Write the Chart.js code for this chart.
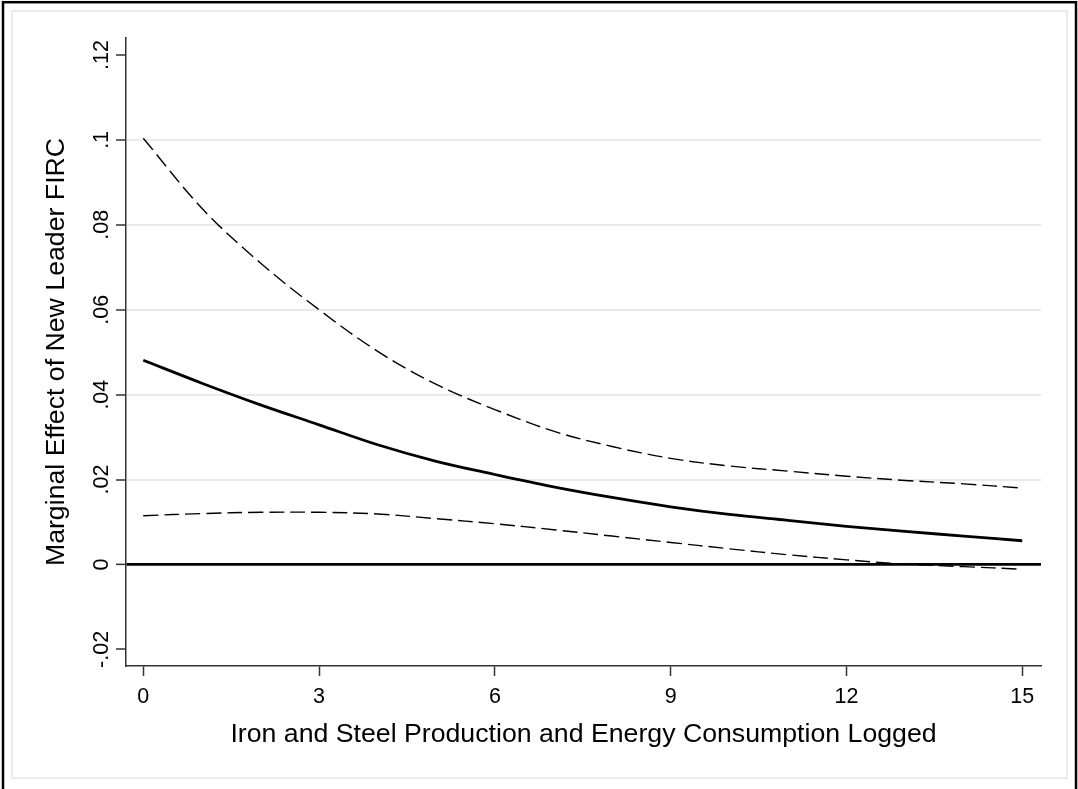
<!DOCTYPE html>
<html>
<head>
<meta charset="utf-8">
<script src="https://cdn.jsdelivr.net/npm/chart.js@4.4.1/dist/chart.umd.min.js"></script>
<style>
  html, body { margin: 0; padding: 0; background: #fff; overflow: hidden; }
  canvas { display: block; }
</style>
</head>
<body>
<canvas id="c" width="1078" height="789"></canvas>
<script>
// ---- data ----
const xVals = [0, 1, 2, 3, 4, 5, 6, 7, 8, 9, 10, 11, 12, 13, 14, 15];
const meanEffect = [0.0481, 0.0427, 0.0376, 0.0329, 0.0282, 0.0243, 0.0212, 0.0183, 0.0158, 0.0136, 0.0118, 0.0104, 0.0090, 0.0078, 0.0067, 0.0056];
const upperCI    = [0.1004, 0.0839, 0.0710, 0.0600, 0.0502, 0.0424, 0.0365, 0.0314, 0.0278, 0.0250, 0.0232, 0.0220, 0.0208, 0.0198, 0.0190, 0.0180];
const lowerCI    = [0.0115, 0.0120, 0.0123, 0.0123, 0.0119, 0.0108, 0.0096, 0.0082, 0.0067, 0.0052, 0.0037, 0.0023, 0.0011, 0.0001, -0.0005, -0.0011];

const xTickVals = [0, 3, 6, 9, 12, 15];
const yTickVals = [-0.02, 0, 0.02, 0.04, 0.06, 0.08, 0.10, 0.12];
const yTickLabels = ['-.02', '0', '.02', '.04', '.06', '.08', '.1', '.12'];
const gridVals = [0.02, 0.04, 0.06, 0.08, 0.10];

const xTitle = 'Iron and Steel Production and Energy Consumption Logged';
const yTitle = 'Marginal Effect of New Leader FIRC';

const FONT = "'Liberation Sans', Arial, Helvetica, sans-serif";

function pts(ys) { return xVals.map((x, i) => ({ x: x, y: ys[i] })); }
function near(a, b) { return Math.abs(a - b) < 1e-9; }

const framePlugin = {
  id: 'frame',
  beforeDraw(chart) {
    const ctx = chart.ctx;
    ctx.save();
    ctx.fillStyle = '#ffffff';
    ctx.fillRect(0, 0, chart.width, chart.height);
    // inner light frame
    ctx.strokeStyle = '#ebebeb';
    ctx.lineWidth = 2;
    ctx.strokeRect(12, 11, 1055, 767);
    // outer black border
    ctx.strokeStyle = '#000000';
    ctx.lineWidth = 2.5;
    ctx.strokeRect(3, 2.2, 1073, 820);
    ctx.restore();
  },
  afterDraw(chart) {
    const ctx = chart.ctx;
    const ys = chart.scales.y;
    const area = chart.chartArea;
    ctx.save();
    ctx.fillStyle = '#000';
    // y tick labels, rotated
    ctx.font = '21.5px ' + FONT;
    ctx.textAlign = 'center';
    ctx.textBaseline = 'alphabetic';
    yTickVals.forEach((v, i) => {
      const py = ys.getPixelForValue(v);
      ctx.save();
      ctx.translate(107.5, py);
      ctx.rotate(-Math.PI / 2);
      ctx.fillText(yTickLabels[i], 0, 0);
      ctx.restore();
    });
    // y title
    ctx.font = '26.7px ' + FONT;
    ctx.save();
    ctx.translate(63.5, (area.top + area.bottom) / 2);
    ctx.rotate(-Math.PI / 2);
    ctx.fillText(yTitle, 0, 0);
    ctx.restore();
    // x title
    ctx.fillText(xTitle, (area.left + area.right) / 2, 742);
    ctx.restore();
  }
};

new Chart(document.getElementById('c'), {
  type: 'line',
  data: {
    datasets: [
      { data: pts(meanEffect), borderColor: '#000', borderWidth: 2.8, pointRadius: 0, tension: 0.35, fill: false },
      { data: pts(upperCI), borderColor: '#000', borderWidth: 1.4, borderDash: [15, 6], pointRadius: 0, tension: 0.35, fill: false },
      { data: pts(lowerCI), borderColor: '#000', borderWidth: 1.4, borderDash: [15, 6], pointRadius: 0, tension: 0.35, fill: false }
    ]
  },
  options: {
    responsive: false,
    animation: false,
    devicePixelRatio: 1,
    layout: { padding: { left: 0, top: 38, right: 37, bottom: 0 } },
    plugins: { legend: { display: false }, tooltip: { enabled: false } },
    scales: {
      x: {
        type: 'linear',
        min: -0.295,
        max: 15.32,
        afterBuildTicks: s => { s.ticks = xTickVals.map(v => ({ value: v })); },
        afterFit: s => { s.height = 123; },
        ticks: {
          color: '#000',
          font: { family: FONT, size: 21.5 },
          padding: 8,
          maxRotation: 0,
          minRotation: 0,
          autoSkip: false,
          callback: v => String(v)
        },
        grid: { drawOnChartArea: false, drawTicks: true, tickLength: 10, tickColor: '#333', tickWidth: 1.5 },
        border: { display: true, color: '#333', width: 1.5 }
      },
      y: {
        type: 'linear',
        min: -0.0239,
        max: 0.1240,
        afterBuildTicks: s => { s.ticks = yTickVals.map(v => ({ value: v })); },
        afterFit: s => { s.width = 126; },
        ticks: { display: false },
        grid: {
          drawTicks: true,
          tickLength: 10,
          tickColor: '#333',
          tickWidth: 1.5,
          color: c => {
            const v = c.tick ? c.tick.value : null;
            if (v === null) return 'rgba(0,0,0,0)';
            if (near(v, 0)) return '#000';
            return gridVals.some(g => near(g, v)) ? '#eaeaea' : 'rgba(0,0,0,0)';
          },
          lineWidth: c => (c.tick && near(c.tick.value, 0)) ? 2.7 : 2
        },
        border: { display: true, color: '#333', width: 1.5 }
      }
    }
  },
  plugins: [framePlugin]
});
</script>
</body>
</html>
